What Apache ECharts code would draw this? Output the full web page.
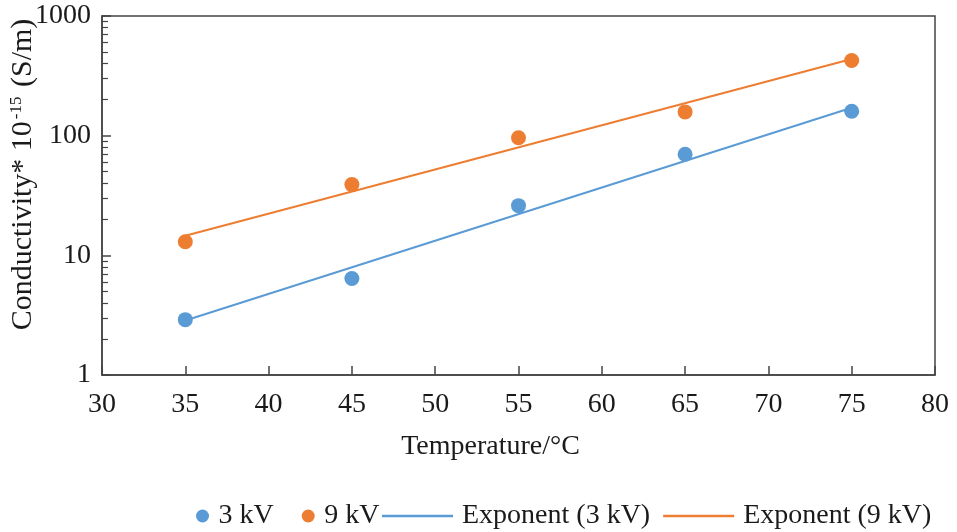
<!DOCTYPE html>
<html>
<head>
    <meta charset="utf-8">
    <title>Conductivity vs temperature</title>
    <script src="https://cdn.jsdelivr.net/npm/echarts@6/dist/echarts.min.js"></script>
</head>
<body style="margin:0;background:#fff;">
    <div id="main" style="width: 957px;height:532px;"></div>
    <script type="text/javascript">
        // values
        var temps = [35, 45, 55, 65, 75];
        var kv3 = [2.9, 6.4, 26, 70, 160];
        var kv9 = [13, 39, 96, 158, 425];
        // fitted exponential trend lines (end points)
        var trendX = [35, 75];
        var trend3 = [2.85, 171];
        var trend9 = [14.6, 437];
        // minor tick positions of the log axis
        var minorTicks = [2, 3, 4, 5, 6, 7, 8, 9, 20, 30, 40, 50, 60, 70, 80, 90, 200, 300, 400, 500, 600, 700, 800, 900];

        var blue = '#5b9bd5', orange = '#ed7d31';
        var font = '"Liberation Serif", "Times New Roman", serif';
        var ink = '#1a1a1a';

        function pairs(xs, ys) {
            return xs.map(function (x, i) { return [x, ys[i]]; });
        }

        var myChart = echarts.init(document.getElementById('main'));

        var option = {
            animation: false,
            textStyle: { fontFamily: font, color: ink },
            grid: {
                left: 102, right: 22, top: 16, bottom: 157,
                outerBoundsMode: 'none', containLabel: false,
                show: true, borderColor: '#444', borderWidth: 1.5
            },
            legend: [{
                data: ['3 kV', '9 kV'],
                left: 191, top: 497,
                itemWidth: 14, itemHeight: 13, itemGap: 28,
                textStyle: { fontFamily: font, fontSize: 28, color: ink, padding: [0, 0, 0, 4] }
            }, {
                data: ['Exponent (3 kV)', 'Exponent (9 kV)'],
                left: 377, top: 497, icon: 'rect',
                itemWidth: 71, itemHeight: 2.5, itemGap: 13,
                textStyle: { fontFamily: font, fontSize: 28, color: ink, padding: [0, 0, 0, 4] }
            }],
            xAxis: {
                type: 'value', min: 30, max: 80, interval: 5,
                name: 'Temperature/°C', nameLocation: 'middle', nameGap: 58,
                nameMoveOverlap: false,
                nameTextStyle: { fontFamily: font, fontSize: 28, color: ink, padding: [0, 56, 0, 0] },
                axisLine: { lineStyle: { color: '#444', width: 1.5 } },
                axisTick: { inside: true, length: 9, lineStyle: { color: '#444', width: 1.5 } },
                axisLabel: { fontFamily: font, fontSize: 28, color: ink, margin: 16 },
                splitLine: { show: false }
            },
            yAxis: [{
                type: 'log', logBase: 10, min: 1, max: 1000,
                name: '{a|Conductivity* 10}{s|-15}{a| (S/m)}', nameLocation: 'middle', nameGap: 64,
                nameRotate: 90, nameMoveOverlap: false,
                nameTextStyle: {
                    padding: [0, 0, 0, 42],
                    rich: {
                        a: { fontFamily: font, fontSize: 30, color: ink },
                        s: { fontFamily: font, fontSize: 17, color: ink, verticalAlign: 'top', padding: [0, 2, 12, 2] }
                    }
                },
                axisLine: { lineStyle: { color: '#444', width: 1.5 } },
                axisTick: { inside: true, length: 9, lineStyle: { color: '#444', width: 1.5 } },
                axisLabel: {
                    fontFamily: font, fontSize: 28, color: ink, margin: 11,
                    formatter: function (v) { return String(v); }
                },
                splitLine: { show: false }
            }, {
                // helper axis in log10 space, only for the minor ticks
                type: 'value', min: 0, max: 3, position: 'left',
                axisLine: { show: false },
                axisTick: {
                    inside: true, length: 6,
                    customValues: minorTicks.map(function (v) { return Math.log10(v); }),
                    lineStyle: { color: '#444', width: 1.2 }
                },
                axisLabel: { show: false },
                splitLine: { show: false }
            }],
            series: [{
                name: '3 kV', type: 'scatter', symbolSize: 15,
                itemStyle: { color: blue, opacity: 1 }, data: pairs(temps, kv3), z: 3
            }, {
                name: '9 kV', type: 'scatter', symbolSize: 15,
                itemStyle: { color: orange, opacity: 1 }, data: pairs(temps, kv9), z: 3
            }, {
                name: 'Exponent (3 kV)', type: 'line', symbol: 'none',
                lineStyle: { color: blue, width: 2 }, itemStyle: { color: blue },
                data: pairs(trendX, trend3), z: 2
            }, {
                name: 'Exponent (9 kV)', type: 'line', symbol: 'none',
                lineStyle: { color: orange, width: 2 }, itemStyle: { color: orange },
                data: pairs(trendX, trend9), z: 2
            }]
        };

        myChart.setOption(option);
    </script>
</body>
</html>
